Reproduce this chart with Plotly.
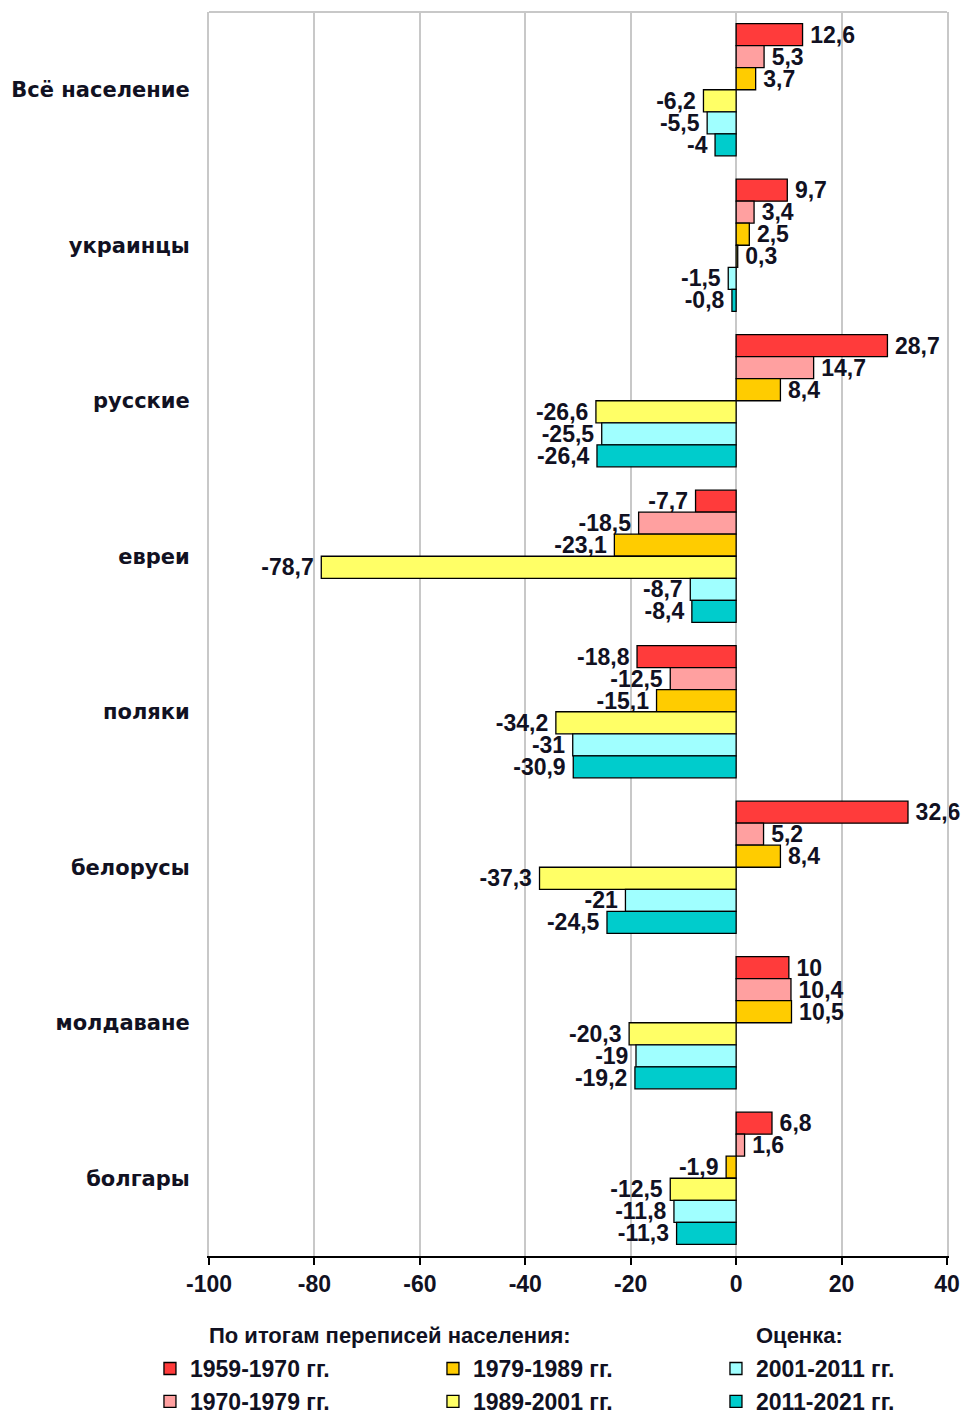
import plotly.graph_objects as go

categories = ["Всё население", "украинцы", "русские", "евреи", "поляки", "белорусы", "молдаване", "болгары"]
periods = ["1959-1970 гг.", "1970-1979 гг.", "1979-1989 гг.", "1989-2001 гг.", "2001-2011 гг.", "2011-2021 гг."]
colors = ["#FF3B3B", "#FFA0A0", "#FFCC00", "#FFFF66", "#A0FFFF", "#00CCCC"]
legend_rank = [1, 4, 2, 5, 3, 6]

v_1959_1970 = [12.6, 9.7, 28.7, -7.7, -18.8, 32.6, 10, 6.8]
v_1970_1979 = [5.3, 3.4, 14.7, -18.5, -12.5, 5.2, 10.4, 1.6]
v_1979_1989 = [3.7, 2.5, 8.4, -23.1, -15.1, 8.4, 10.5, -1.9]
v_1989_2001 = [-6.2, 0.3, -26.6, -78.7, -34.2, -37.3, -20.3, -12.5]
v_2001_2011 = [-5.5, -1.5, -25.5, -8.7, -31, -21, -19, -11.8]
v_2011_2021 = [-4, -0.8, -26.4, -8.4, -30.9, -24.5, -19.2, -11.3]
series = [v_1959_1970, v_1970_1979, v_1979_1989, v_1989_2001, v_2001_2011, v_2011_2021]

x_ticks = [-100, -80, -60, -40, -20, 0, 20, 40]

SANS = "Liberation Sans, Arial, sans-serif"
WIDE = "DejaVu Sans, Verdana, sans-serif"
TXT = "#111122"


def label(v):
    s = f"{v:g}".replace(".", ",")
    return "\u2009" + s if v >= 0 else s + "\u2009"


fig = go.Figure()
for name, vals, col, rk in zip(periods, series, colors, legend_rank):
    fig.add_trace(go.Bar(
        y=categories, x=vals, orientation="h", name=name,
        marker=dict(color=col, line=dict(color="#000000", width=1.3)),
        text=[label(v) for v in vals],
        textposition="outside", constraintext="none", cliponaxis=False,
        textfont=dict(family=SANS, size=23, color=TXT, weight="bold"),
        legendrank=rk,
    ))

fig.update_layout(
    width=966, height=1416,
    margin=dict(l=209, r=19, t=12, b=160, autoexpand=False),
    paper_bgcolor="white", plot_bgcolor="white",
    barmode="group", bargap=0.15, bargroupgap=0,
    showlegend=True,
    legend=dict(orientation="h", x=-0.08, xanchor="left", y=-0.0732, yanchor="top",
                entrywidth=238, entrywidthmode="pixels", traceorder="normal",
                font=dict(family=SANS, size=23, color=TXT, weight="bold"),
                tracegroupgap=0, itemwidth=30),
    xaxis=dict(range=[-100, 40], tickvals=x_ticks, ticktext=[str(t) for t in x_ticks],
               showgrid=True, gridcolor="#C8C8C8", gridwidth=2, zeroline=False,
               showline=True, linecolor="#000000", linewidth=1.5,
               ticks="outside", ticklen=7, tickcolor="#000000", tickwidth=1.5,
               automargin=False,
               tickfont=dict(family=SANS, size=23, color=TXT, weight="bold")),
    yaxis=dict(autorange="reversed", showgrid=False, zeroline=False,
               showline=True, linecolor="#C8C8C8", linewidth=2, mirror=True,
               ticks="", ticklabelstandoff=13, automargin=False,
               tickfont=dict(family=WIDE, size=21, color=TXT, weight="bold")),
    yaxis2=dict(overlaying="y", anchor="free", position=(0 - (-100)) / 140, side="left",
                range=[len(categories) - 0.5, -0.5],
                tickvals=[i - 0.5 for i in range(len(categories) + 1)],
                showticklabels=False, showgrid=False, zeroline=False,
                showline=True, linecolor="#000000", linewidth=1.5,
                ticks="outside", ticklen=7, tickcolor="#000000", tickwidth=1.5),
)

# gray top border of the plotting area
fig.add_shape(type="line", xref="paper", yref="paper", x0=0, x1=1, y0=1, y1=1,
              line=dict(color="#C8C8C8", width=2), layer="below")

fig.add_annotation(text="По итогам переписей населения:", xref="paper", yref="paper",
                   x=(390 - 209) / 738, y=-(1335 - 1256) / 1244, xanchor="center", yanchor="middle",
                   showarrow=False, font=dict(family=SANS, size=22, color=TXT, weight="bold"))
fig.add_annotation(text="Оценка:", xref="paper", yref="paper",
                   x=(799 - 209) / 738, y=-(1335 - 1256) / 1244, xanchor="center", yanchor="middle",
                   showarrow=False, font=dict(family=SANS, size=22, color=TXT, weight="bold"))

fig.write_html("out.html", config={"displayModeBar": False},
               post_script="document.body.style.margin='0';")
